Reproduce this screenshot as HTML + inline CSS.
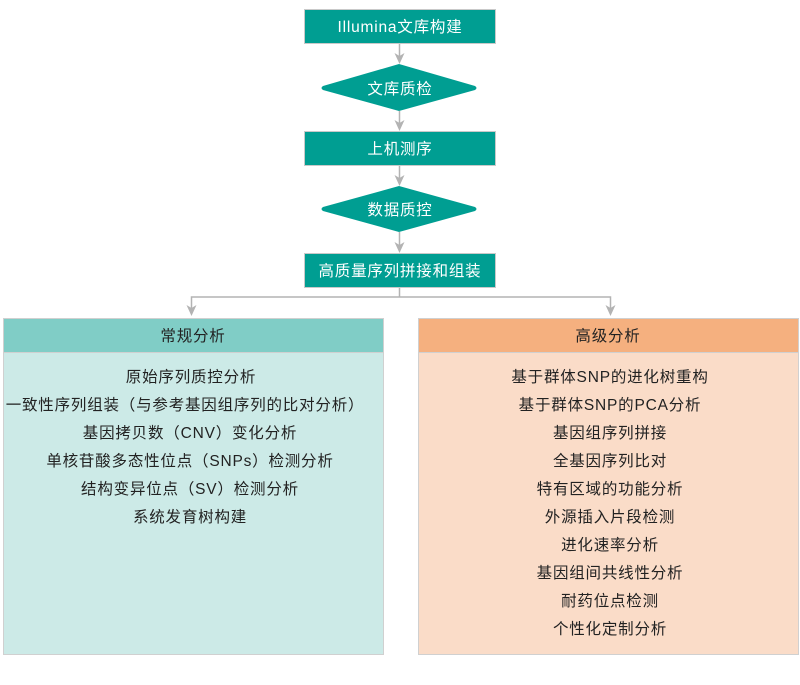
<!DOCTYPE html>
<html><head><meta charset="utf-8"><style>
body{margin:0;background:#fff;}
svg text{font-family:"Liberation Sans","Noto Sans CJK SC",sans-serif;}
</style></head><body>
<svg width="800" height="680" viewBox="0 0 800 680" xmlns="http://www.w3.org/2000/svg">
<g stroke="#b3b3b3" stroke-width="1.5" fill="none">
<line x1="399.5" y1="43" x2="399.5" y2="58"/>
<line x1="399.5" y1="111" x2="399.5" y2="125"/>
<line x1="399.5" y1="165" x2="399.5" y2="180"/>
<line x1="399.5" y1="232" x2="399.5" y2="247"/>
<polyline points="399.5,287 399.5,297"/>
<polyline points="191.5,310 191.5,297 610.5,297 610.5,310"/>
</g>
<g fill="#b3b3b3">
<path d="M394.5,53 L399.5,56 L404.5,53 L399.5,64 Z"/>
<path d="M394.5,120 L399.5,123 L404.5,120 L399.5,131 Z"/>
<path d="M394.5,175 L399.5,178 L404.5,175 L399.5,186 Z"/>
<path d="M394.5,242 L399.5,245 L404.5,242 L399.5,253 Z"/>
<path d="M186.5,305 L191.5,308 L196.5,305 L191.5,316 Z"/>
<path d="M605.5,305 L610.5,308 L615.5,305 L610.5,316 Z"/>
</g>
<g fill="#009e92" stroke="#c9c9c9" stroke-width="1">
<rect x="304.5" y="9.5" width="191" height="34"/>
<rect x="304.5" y="131.5" width="191" height="34"/>
<rect x="304.5" y="253.5" width="191" height="34"/>
<path d="M399,64 L475,86 Q478,88 475,90 L399,111 L323,90 Q320,88 323,86 Z" stroke="none"/>
<path d="M399,186 L475,207 Q478,209 475,211 L399,232 L323,211 Q320,209 323,207 Z" stroke="none"/>
</g>
<g fill="#fff" font-size="15.5" text-anchor="middle" letter-spacing="0.8">
<text x="400" y="32">Illumina文库构建</text>
<text x="400" y="94">文库质检</text>
<text x="400" y="154">上机测序</text>
<text x="400" y="215">数据质控</text>
<text x="400" y="276">高质量序列拼接和组装</text>
</g>
<rect x="3.5" y="318.5" width="380" height="336" fill="#cceae7" stroke="#d0d0d0"/>
<rect x="3.5" y="318.5" width="380" height="34" fill="#80cdc6" stroke="#d0d0d0"/>
<rect x="418.5" y="318.5" width="380" height="336" fill="#fadcc8" stroke="#d0d0d0"/>
<rect x="418.5" y="318.5" width="380" height="34" fill="#f5b07f" stroke="#d0d0d0"/>
<g fill="#222" font-size="15.5" text-anchor="middle" letter-spacing="0.8">
<text x="193" y="341">常规分析</text>
<text x="608" y="341">高级分析</text>
<text x="191" y="382">原始序列质控分析</text>
<text x="185" y="410">一致性序列组装（与参考基因组序列的比对分析）</text>
<text x="190" y="438">基因拷贝数（CNV）变化分析</text>
<text x="190" y="466">单核苷酸多态性位点（SNPs）检测分析</text>
<text x="190" y="494">结构变异位点（SV）检测分析</text>
<text x="190" y="522">系统发育树构建</text>
<text x="610" y="382">基于群体SNP的进化树重构</text>
<text x="610" y="410">基于群体SNP的PCA分析</text>
<text x="610" y="438">基因组序列拼接</text>
<text x="610" y="466">全基因序列比对</text>
<text x="610" y="494">特有区域的功能分析</text>
<text x="610" y="522">外源插入片段检测</text>
<text x="610" y="550">进化速率分析</text>
<text x="610" y="578">基因组间共线性分析</text>
<text x="610" y="606">耐药位点检测</text>
<text x="610" y="634">个性化定制分析</text>
</g>
</svg>
</body></html>
